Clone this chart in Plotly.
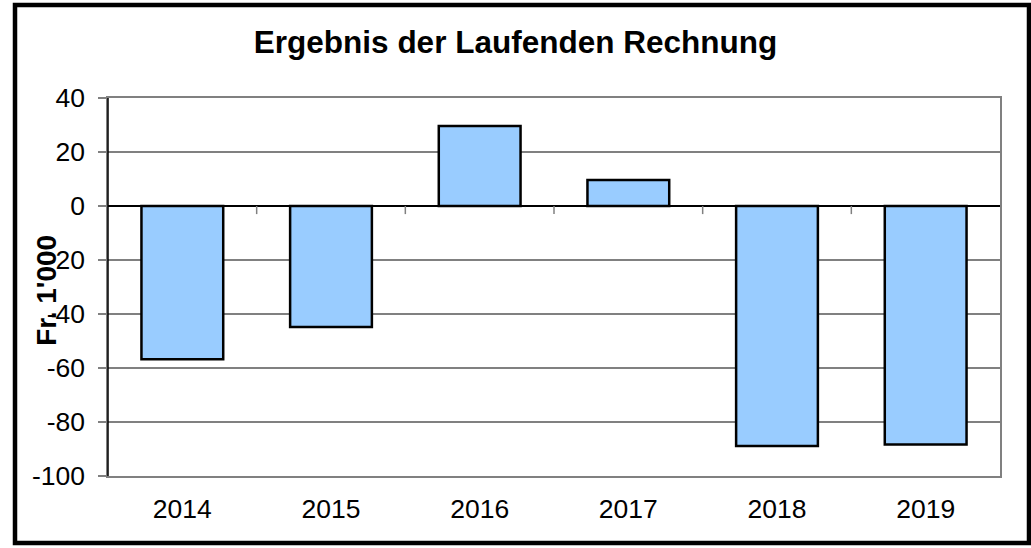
import plotly.graph_objects as go

categories = ["2014", "2015", "2016", "2017", "2018", "2019"]
values = [-56.8, -44.8, 29.6, 9.6, -88.9, -88.3]
y_ticks = [40, 20, 0, -20, -40, -60, -80, -100]
y_tick_labels = [str(v) for v in y_ticks]

FONT = "Liberation Sans, Arial, sans-serif"
W, H = 1031, 548
L, R, T, B = 108, 31, 98, 72
pw, ph = W - L - R, H - T - B

fig = go.Figure(
    go.Bar(
        x=categories,
        y=values,
        marker=dict(color="#99CCFF", line=dict(color="black", width=2.5)),
        width=0.55,
    )
)

shapes = []
# category-boundary tick marks on the zero line
for i in range(len(categories) - 1):
    shapes.append(dict(type="line", xref="x", yref="y", x0=i + 0.5, x1=i + 0.5,
                       y0=0, y1=-3, line=dict(color="#808080", width=1.5)))
# black left axis line
shapes.append(dict(type="line", xref="paper", yref="paper", x0=0, x1=0, y0=0, y1=1,
                   line=dict(color="black", width=1.5)))
# outer chart border
shapes.append(dict(type="rect", xref="paper", yref="paper",
                   x0=(15 - L) / pw, x1=(1029 - L) / pw,
                   y0=(H - B - 543) / ph, y1=(H - B - 5) / ph,
                   line=dict(color="black", width=4.5)))

fig.update_layout(
    width=W, height=H,
    margin=dict(l=L, r=R, t=T, b=B),
    paper_bgcolor="white", plot_bgcolor="white",
    showlegend=False,
    font=dict(family=FONT, color="black", size=26),
    title=dict(text="<b>Ergebnis der Laufenden Rechnung</b>", x=0.5, xanchor="center",
               y=1 - 42 / H, yanchor="middle", font=dict(size=31.5, family=FONT)),
    xaxis=dict(
        type="category", showgrid=False, ticks="", showline=True, mirror=True,
        linecolor="#808080", linewidth=1.5, ticklabelstandoff=8,
        tickfont=dict(size=26.5),
    ),
    yaxis=dict(
        range=[-100, 40], tickvals=y_ticks, ticktext=y_tick_labels, showgrid=True,
        gridcolor="#808080", gridwidth=1.5, zeroline=True, zerolinecolor="black",
        zerolinewidth=1.5, ticks="outside", ticklen=8, tickcolor="#808080", tickwidth=1.5,
        showline=True, mirror=True, linecolor="#808080", linewidth=1.5,
        ticklabelstandoff=8, tickfont=dict(size=26.5),
    ),
    shapes=shapes,
    annotations=[dict(text="<b>Fr. 1'000</b>", textangle=-90, xref="paper", yref="paper",
                      x=(47 - L) / pw, y=0.49, xanchor="center", yanchor="middle",
                      showarrow=False, font=dict(size=28, family=FONT))],
)

fig.write_html("out.html", config={"displayModeBar": False},
               post_script="document.body.style.margin='0';")
